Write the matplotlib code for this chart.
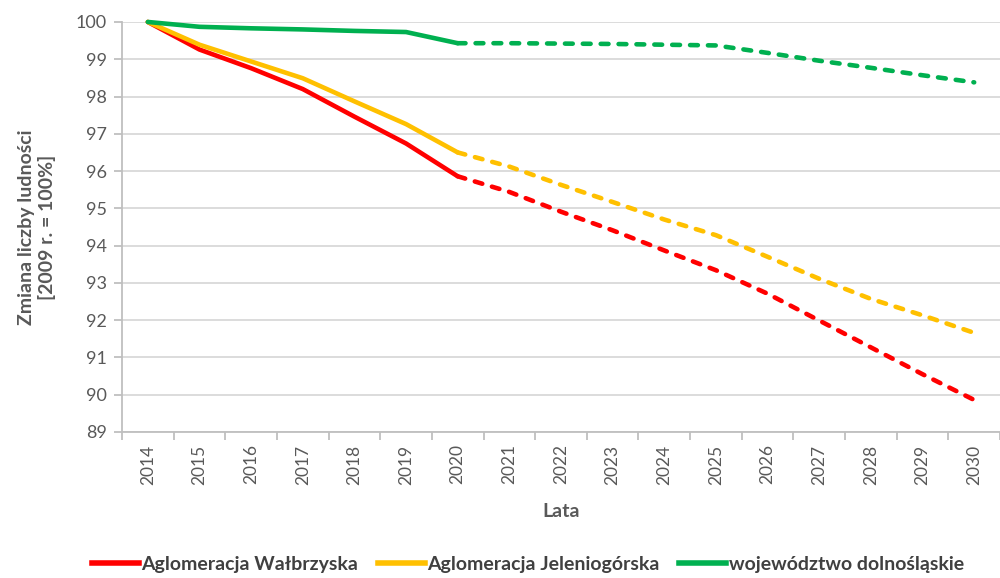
import matplotlib
matplotlib.use("Agg")
import matplotlib.pyplot as plt
from matplotlib.lines import Line2D

plt.rcParams['font.family'] = ['Lato', 'DejaVu Sans']

# data (index 2009 = 100%)
years = list(range(2014, 2031))
walbrzyska = [100.0, 99.26, 98.76, 98.20, 97.46, 96.74, 95.86,
              95.44, 94.91, 94.41, 93.87, 93.34, 92.71, 91.99, 91.27, 90.55, 89.86]
jeleniogorska = [100.0, 99.39, 98.94, 98.49, 97.87, 97.26, 96.50,
                 96.12, 95.63, 95.17, 94.70, 94.28, 93.70, 93.11, 92.57, 92.13, 91.66]
dolnoslaskie = [100.0, 99.87, 99.83, 99.80, 99.76, 99.73, 99.43,
                99.43, 99.42, 99.41, 99.39, 99.37, 99.17, 98.96, 98.77, 98.57, 98.38]

series = [
    ("Aglomeracja Wałbrzyska", walbrzyska, "#FF0000"),
    ("Aglomeracja Jeleniogórska", jeleniogorska, "#FFC000"),
    ("województwo dolnośląskie", dolnoslaskie, "#00B050"),
]
split_year = 2020
gray = "#595959"

fig = plt.figure(figsize=(10, 5.78), dpi=100)
ax = fig.add_axes([0.122, 0.2526, 0.878, 0.7094])

k = years.index(split_year)
for name, vals, col in series:
    ax.plot(years[:k + 1], vals[:k + 1], color=col, lw=3.3, solid_capstyle='round',
            clip_on=False, zorder=3)
    ax.plot(years[k:], vals[k:], color=col, lw=3.3, ls=(0, (1.7, 2.2)),
            dash_capstyle='round', clip_on=False, zorder=3)

ax.set_ylim(89, 100)
ax.set_yticks(range(89, 101))
ax.set_xlim(2013.5, 2030.29)
ax.set_xticks(years)
ax.set_xticklabels([str(y) for y in years], rotation=90)
ax.set_xticks([y + 0.5 for y in [2013] + years], minor=True)

ax.grid(axis='y', color="#D9D9D9", lw=1.3)
ax.set_axisbelow(True)
for s in ['top', 'right']:
    ax.spines[s].set_visible(False)
for s in ['left', 'bottom']:
    ax.spines[s].set_color("#BFBFBF")
    ax.spines[s].set_linewidth(1.3)

ax.tick_params(axis='y', colors="#BFBFBF", labelcolor=gray, labelsize=13, length=6, width=1.3, pad=5)
ax.tick_params(axis='x', which='major', length=0, labelcolor=gray, labelsize=12.5, pad=9)
ax.tick_params(axis='x', which='minor', colors="#BFBFBF", length=6, width=1.3)

ax.set_ylabel("Zmiana liczby ludności\n[2009 r. = 100%]", color=gray,
              fontsize=14, fontweight='bold', labelpad=14, linespacing=1.2)
ax.set_xlabel("Lata", color=gray, fontsize=14, fontweight='bold', labelpad=13)

handles = [Line2D([], [], color=c, lw=4) for _, _, c in series]
leg = fig.legend(handles, [n for n, _, _ in series], loc='center', ncol=3,
                 bbox_to_anchor=(0.528, 0.023), frameon=False, handlelength=2.4,
                 handletextpad=0.15, columnspacing=1.0,
                 prop={'weight': 'bold', 'size': 14})
for t in leg.get_texts():
    t.set_color("#404040")

fig.savefig("out.png", dpi=100)
